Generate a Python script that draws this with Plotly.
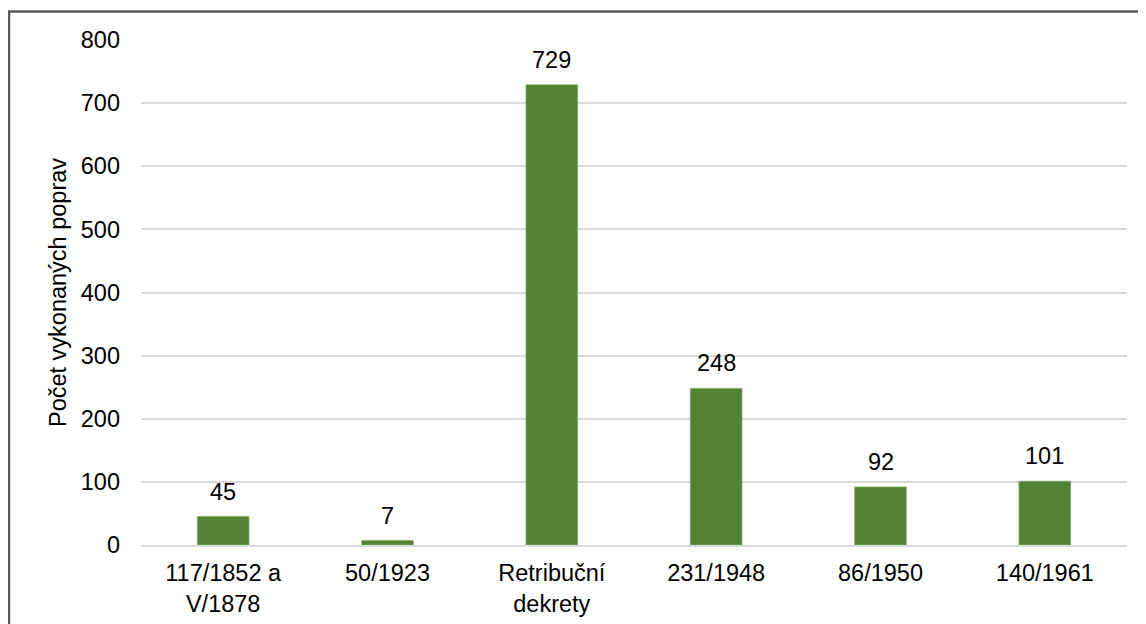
import plotly.graph_objects as go

categories = ["117/1852 a<br>V/1878", "50/1923", "Retribuční<br>dekrety", "231/1948", "86/1950", "140/1961"]
values = [45, 7, 729, 248, 92, 101]
y_ticks = [0, 100, 200, 300, 400, 500, 600, 700, 800]
y_title = "Počet vykonaných poprav"

FONT = "Liberation Sans, Arial, sans-serif"
FS = 23.5

fig = go.Figure()
fig.add_trace(go.Bar(
    x=categories,
    y=values,
    marker=dict(color="#548235", line=dict(color="#7fa862", width=0.8)),
    hoverinfo="x+y",
))

for c, v in zip(categories, values):
    fig.add_annotation(x=c, y=v, text=str(v), showarrow=False,
                       yanchor="bottom", yshift=10,
                       font=dict(family=FONT, size=FS, color="#000000"))

fig.add_shape(type="rect", xref="paper", yref="paper",
              x0=-0.1339, x1=1.04, y0=-0.2, y1=1.0564,
              line=dict(color="#595959", width=2.5), fillcolor="rgba(0,0,0,0)",
              layer="above")

fig.update_layout(
    width=1146, height=624,
    margin=dict(l=133, r=27, t=32, b=87, autoexpand=False),
    paper_bgcolor="white", plot_bgcolor="white",
    bargap=0.686,
    showlegend=False,
    font=dict(family=FONT, size=FS, color="#000000"),
)
fig.update_xaxes(
    showgrid=False, showline=True, linecolor="#d9d9d9", linewidth=2,
    ticks="", ticklabelstandoff=6, automargin=False,
    tickfont=dict(family=FONT, size=FS, color="#000000"),
)
fig.update_yaxes(
    range=[0, 800], tickvals=y_ticks, showgrid=True, gridcolor="#d9d9d9", gridwidth=2,
    zeroline=False, showline=False, ticks="", ticklabelstandoff=20, automargin=False,
    tickfont=dict(family=FONT, size=FS, color="#000000"),
    title=dict(text=y_title, standoff=7, font=dict(family=FONT, size=FS, color="#000000")),
)

fig.write_html("out.html")
